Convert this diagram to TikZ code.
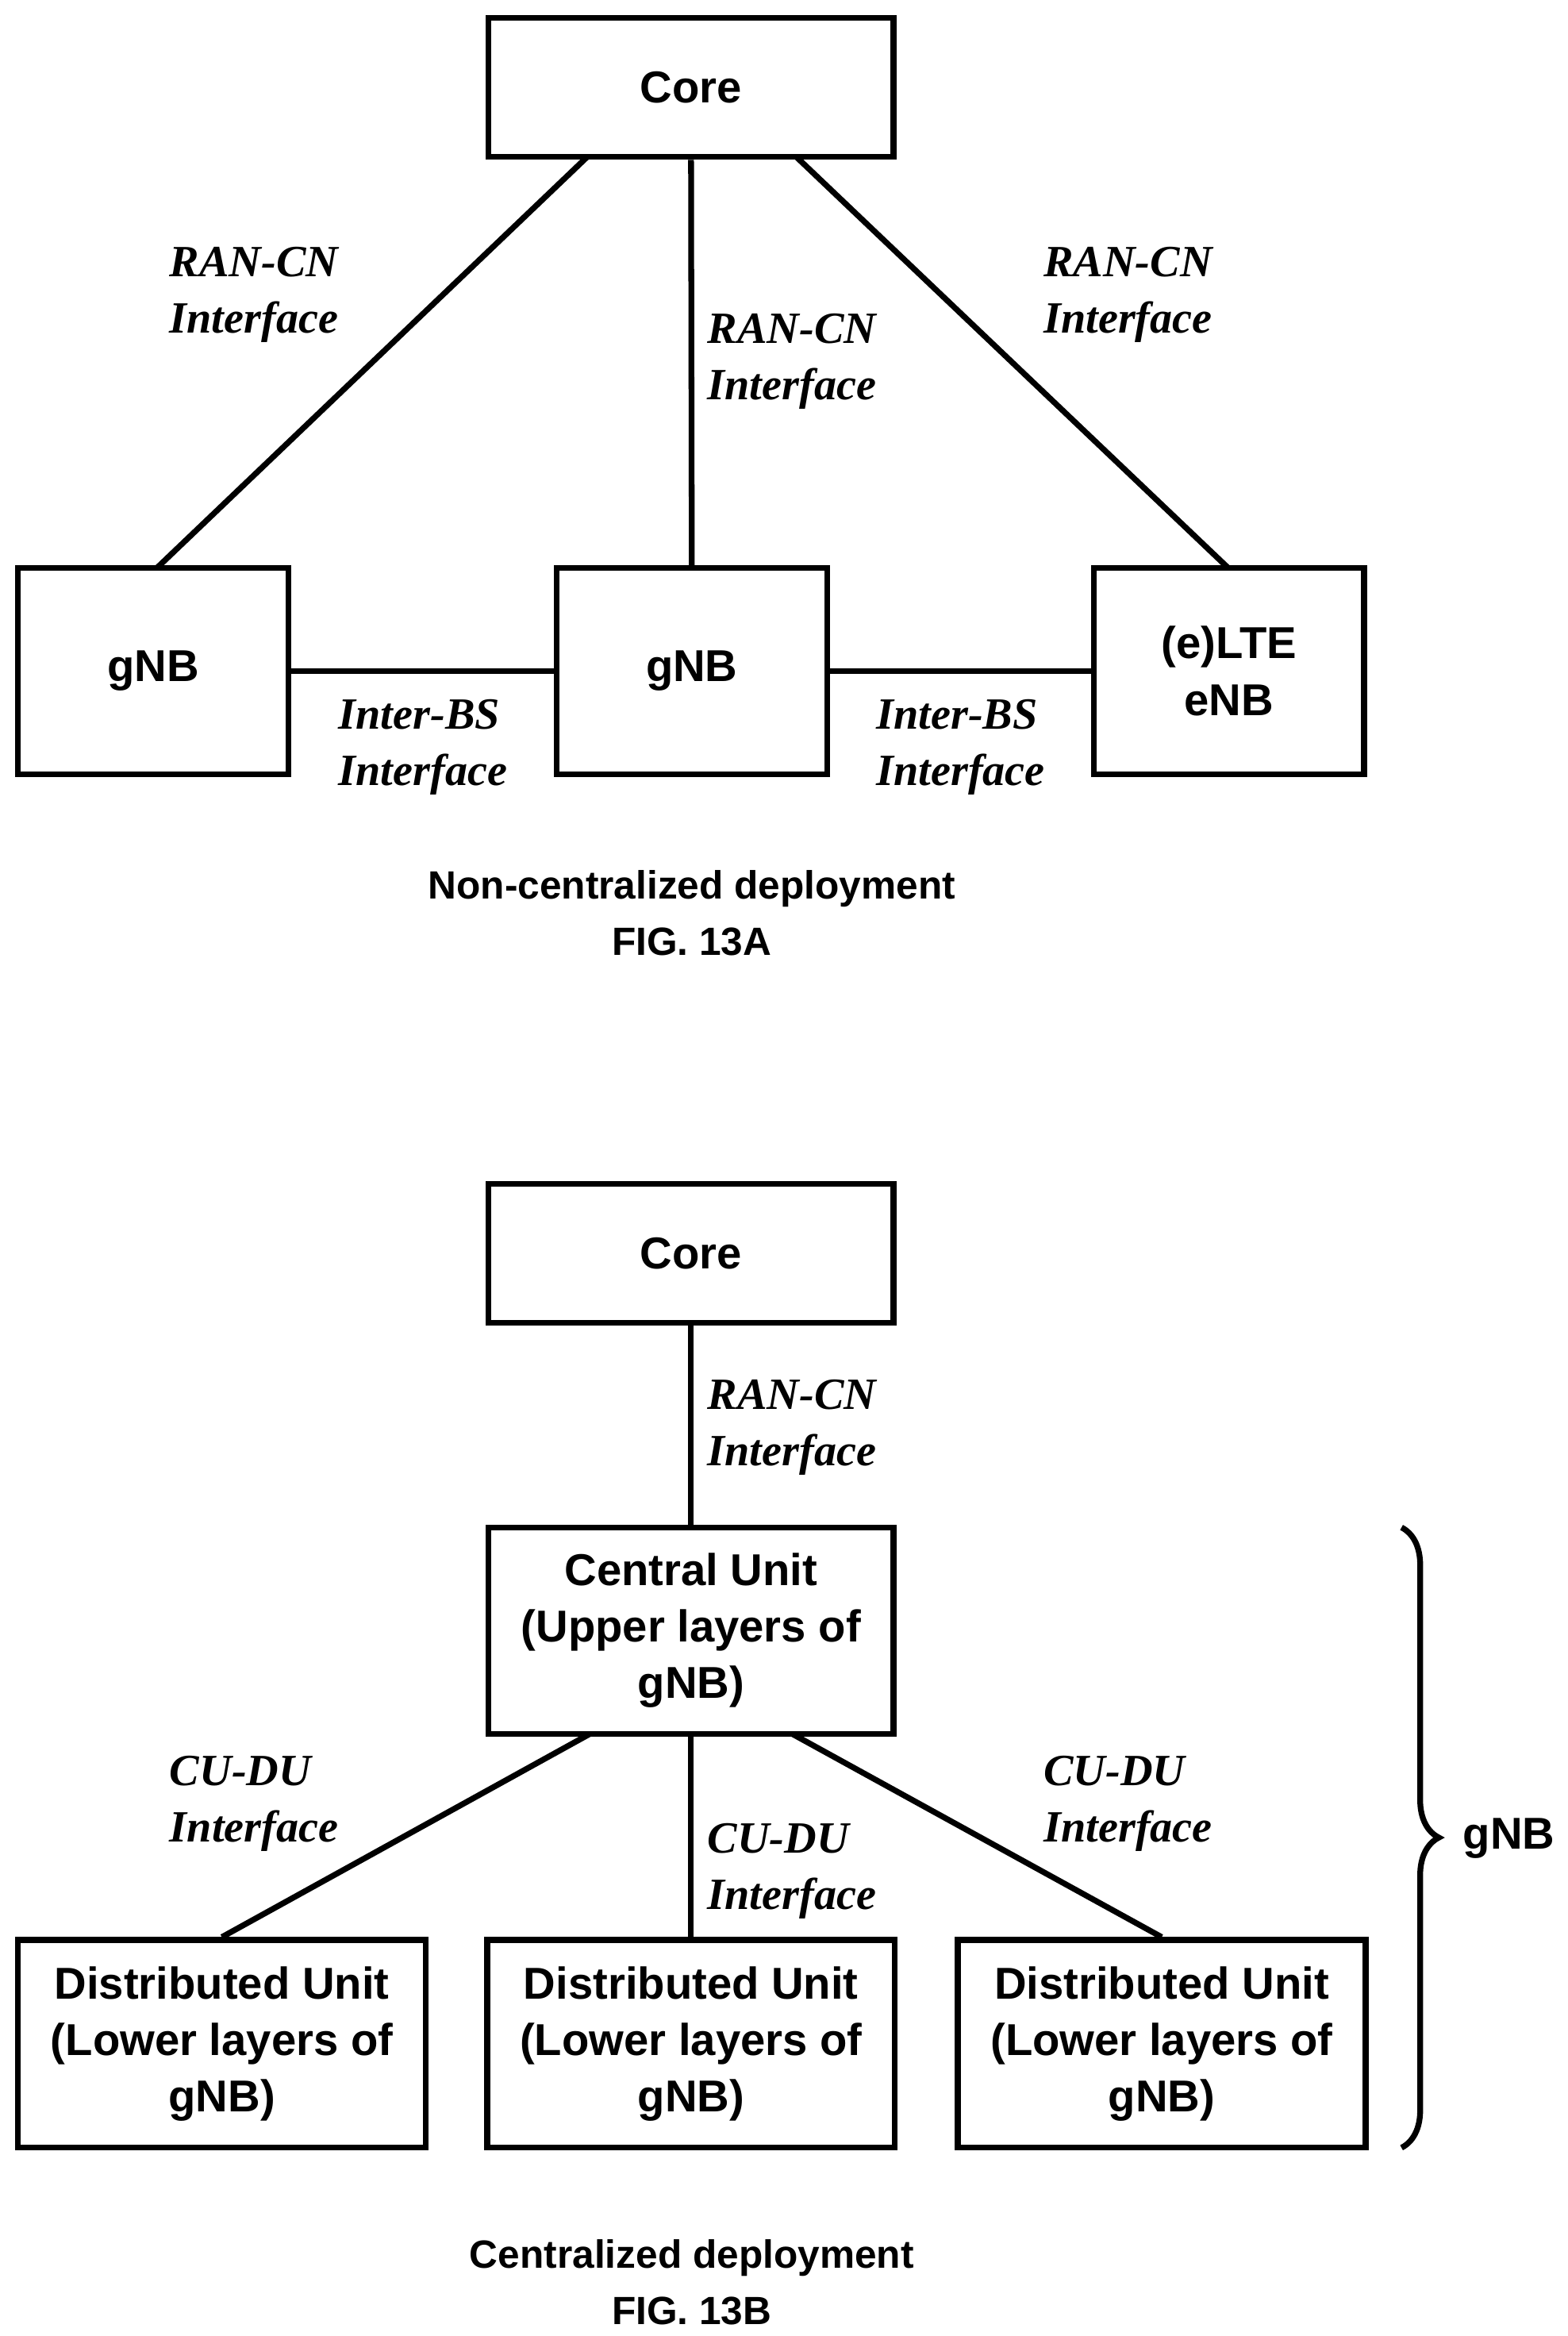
\documentclass[tikz,border=0pt]{standalone}
\usepackage{fontspec}
\setmainfont{Liberation Sans}
\newfontfamily\lblfont{Liberation Serif}
\usetikzlibrary{decorations.pathreplacing}
\begin{document}
\begin{tikzpicture}[x=0.02cm,y=-0.02cm,line width=2.2pt,
    box/.style={draw,minimum width=5.42cm,minimum height=2.76cm,align=center,
        font=\fontsize{17}{21.5}\selectfont\bfseries,inner sep=0pt},
    sbox/.style={box,minimum width=3.62cm},
    dbox/.style={box,minimum width=5.46cm,minimum height=2.78cm},
    ifc/.style={font=\lblfont\fontsize{17}{21.5}\selectfont\bfseries\itshape,align=left},
    figcap/.style={font=\fontsize{15}{21.5}\selectfont\bfseries,align=center}]
\useasboundingbox (0,0) rectangle (1049,1563);
% FIG. 13A
\node[box,minimum height=1.86cm] (coreA) at (462.5,58.5) {Core};
\node[sbox] (gnbL) at (102.5,449) {gNB};
\node[sbox] (gnbM) at (463,449) {gNB};
\node[sbox] (enb) at (822.5,449) {(e)LTE\\eNB};
\draw (393,105) -- (105,380);
\draw (coreA.south) -- (gnbM.north);
\draw (533,105) -- (822,380);
\draw (gnbL) -- (gnbM);
\draw (gnbM) -- (enb);
\node[ifc] at (170,197) {RAN-CN\\Interface};
\node[ifc] at (530,242) {RAN-CN\\Interface};
\node[ifc] at (755,197) {RAN-CN\\Interface};
\node[ifc] at (283,500) {Inter-BS\\Interface};
\node[ifc] at (643,500) {Inter-BS\\Interface};
\node[figcap] at (463,611) {Non-centralized deployment\\FIG. 13A};
% FIG. 13B
\node[box,minimum height=1.86cm] (coreB) at (462.5,838.5) {Core};
\node[box] (cu) at (462.5,1091) {Central Unit\\(Upper layers of\\gNB)};
\node[dbox] (du1) at (148.5,1367.5) {Distributed Unit\\(Lower layers of\\gNB)};
\node[dbox] (du2) at (462.5,1367.5) {Distributed Unit\\(Lower layers of\\gNB)};
\node[dbox] (du3) at (777.5,1367.5) {Distributed Unit\\(Lower layers of\\gNB)};
\draw (coreB) -- (cu);
\draw (395,1160) -- (du1.north);
\draw (cu) -- (du2);
\draw (530,1160) -- (du3.north);
\node[ifc] at (530,955) {RAN-CN\\Interface};
\node[ifc] at (170,1207) {CU-DU\\Interface};
\node[ifc] at (530,1252) {CU-DU\\Interface};
\node[ifc] at (755,1207) {CU-DU\\Interface};
\coordinate (bt) at (938,1022);
\coordinate (bb) at (938,1437);
\draw[decorate,decoration={brace,amplitude=0.5cm}] (bt) -- (bb);
\node[font=\fontsize{17}{21.5}\selectfont\bfseries] at (1010,1230) {gNB};
\node[figcap] at (463,1527) {Centralized deployment\\FIG. 13B};
\end{tikzpicture}
\end{document}
